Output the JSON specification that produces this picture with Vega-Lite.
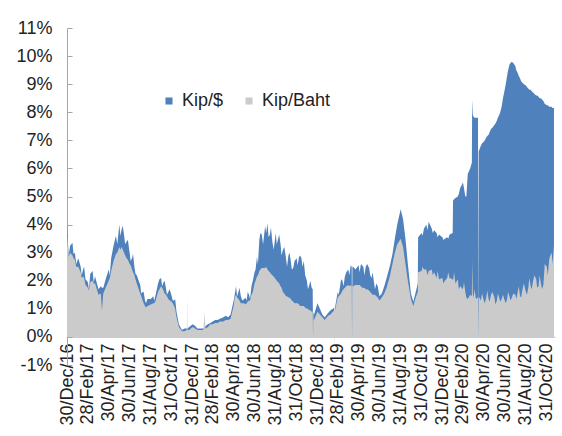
{
  "$schema": "https://vega.github.io/schema/vega-lite/v6.json",
  "width": 488,
  "height": 337,
  "autosize": {"type": "none"},
  "padding": {"left": 67, "top": 28, "right": 7, "bottom": 71},
  "config": {"view": {"stroke": null}, "font": "Liberation Sans"},
  "data": {"values": [
    {"date": "2016-12-30", "usd": 4.0, "baht": 3.6},
    {"date": "2017-01-01", "usd": 3.55, "baht": 3.3},
    {"date": "2017-01-08", "usd": 3.25, "baht": 3.0},
    {"date": "2017-01-15", "usd": 3.35, "baht": 2.9},
    {"date": "2017-01-22", "usd": 3.0, "baht": 2.75},
    {"date": "2017-02-01", "usd": 2.8, "baht": 2.5},
    {"date": "2017-02-08", "usd": 2.5, "baht": 2.3},
    {"date": "2017-02-15", "usd": 2.4, "baht": 2.15},
    {"date": "2017-02-22", "usd": 2.05, "baht": 1.85},
    {"date": "2017-03-01", "usd": 1.95, "baht": 1.75},
    {"date": "2017-03-08", "usd": 2.25, "baht": 1.95},
    {"date": "2017-03-15", "usd": 2.35, "baht": 2.0},
    {"date": "2017-03-22", "usd": 2.15, "baht": 1.9},
    {"date": "2017-04-01", "usd": 1.7, "baht": 1.5},
    {"date": "2017-04-08", "usd": 1.8, "baht": 1.55},
    {"date": "2017-04-15", "usd": 1.75, "baht": 1.55},
    {"date": "2017-04-22", "usd": 2.05, "baht": 1.75},
    {"date": "2017-05-01", "usd": 2.4, "baht": 2.0},
    {"date": "2017-05-08", "usd": 2.8, "baht": 2.35},
    {"date": "2017-05-15", "usd": 3.25, "baht": 2.7},
    {"date": "2017-05-22", "usd": 3.6, "baht": 2.95},
    {"date": "2017-06-01", "usd": 4.0, "baht": 3.2},
    {"date": "2017-06-08", "usd": 3.85, "baht": 3.2},
    {"date": "2017-06-15", "usd": 3.6, "baht": 3.0},
    {"date": "2017-06-22", "usd": 3.4, "baht": 2.8},
    {"date": "2017-07-01", "usd": 3.0, "baht": 2.6},
    {"date": "2017-07-08", "usd": 2.8, "baht": 2.4},
    {"date": "2017-07-15", "usd": 2.5, "baht": 2.2},
    {"date": "2017-07-22", "usd": 2.2, "baht": 1.9},
    {"date": "2017-08-01", "usd": 1.85, "baht": 1.55},
    {"date": "2017-08-08", "usd": 1.6, "baht": 1.3},
    {"date": "2017-08-15", "usd": 1.3, "baht": 1.1},
    {"date": "2017-08-22", "usd": 1.35, "baht": 1.1},
    {"date": "2017-09-01", "usd": 1.35, "baht": 1.15},
    {"date": "2017-09-08", "usd": 1.45, "baht": 1.2},
    {"date": "2017-09-15", "usd": 1.5, "baht": 1.3},
    {"date": "2017-09-22", "usd": 1.9, "baht": 1.6},
    {"date": "2017-10-01", "usd": 2.1, "baht": 1.8},
    {"date": "2017-10-08", "usd": 1.95, "baht": 1.65},
    {"date": "2017-10-15", "usd": 1.75, "baht": 1.5},
    {"date": "2017-10-22", "usd": 1.6, "baht": 1.35},
    {"date": "2017-11-01", "usd": 1.45, "baht": 1.25},
    {"date": "2017-11-08", "usd": 1.3, "baht": 1.1},
    {"date": "2017-11-15", "usd": 0.9, "baht": 0.7},
    {"date": "2017-11-22", "usd": 0.45, "baht": 0.35},
    {"date": "2017-12-01", "usd": 0.25, "baht": 0.2},
    {"date": "2017-12-08", "usd": 0.3, "baht": 0.2},
    {"date": "2017-12-15", "usd": 0.3, "baht": 0.25},
    {"date": "2017-12-16", "usd": 0.3, "baht": 1.4},
    {"date": "2017-12-17", "usd": 0.3, "baht": 0.25},
    {"date": "2017-12-22", "usd": 0.35, "baht": 0.25},
    {"date": "2018-01-01", "usd": 0.45, "baht": 0.35},
    {"date": "2018-01-08", "usd": 0.4, "baht": 0.3},
    {"date": "2018-01-15", "usd": 0.3, "baht": 0.25},
    {"date": "2018-01-22", "usd": 0.3, "baht": 0.25},
    {"date": "2018-02-01", "usd": 0.3, "baht": 0.25},
    {"date": "2018-02-06", "usd": 0.35, "baht": 0.9},
    {"date": "2018-02-07", "usd": 0.35, "baht": 0.3},
    {"date": "2018-02-08", "usd": 0.4, "baht": 0.3},
    {"date": "2018-02-15", "usd": 0.45, "baht": 0.35},
    {"date": "2018-02-22", "usd": 0.5, "baht": 0.45},
    {"date": "2018-03-01", "usd": 0.55, "baht": 0.45},
    {"date": "2018-03-08", "usd": 0.6, "baht": 0.5},
    {"date": "2018-03-15", "usd": 0.6, "baht": 0.5},
    {"date": "2018-03-22", "usd": 0.65, "baht": 0.55},
    {"date": "2018-04-01", "usd": 0.7, "baht": 0.55},
    {"date": "2018-04-08", "usd": 0.75, "baht": 0.6},
    {"date": "2018-04-15", "usd": 0.7, "baht": 0.6},
    {"date": "2018-04-22", "usd": 0.8, "baht": 0.65},
    {"date": "2018-05-01", "usd": 1.3, "baht": 1.1},
    {"date": "2018-05-08", "usd": 1.8, "baht": 1.5},
    {"date": "2018-05-15", "usd": 1.6, "baht": 1.35},
    {"date": "2018-05-22", "usd": 1.45, "baht": 1.2},
    {"date": "2018-06-01", "usd": 1.35, "baht": 1.2},
    {"date": "2018-06-08", "usd": 1.3, "baht": 1.2},
    {"date": "2018-06-15", "usd": 1.5, "baht": 1.3},
    {"date": "2018-06-22", "usd": 1.8, "baht": 1.5},
    {"date": "2018-07-01", "usd": 2.3, "baht": 1.9},
    {"date": "2018-07-08", "usd": 2.85, "baht": 2.15},
    {"date": "2018-07-15", "usd": 3.45, "baht": 2.35},
    {"date": "2018-07-22", "usd": 3.65, "baht": 2.45},
    {"date": "2018-08-01", "usd": 3.95, "baht": 2.45},
    {"date": "2018-08-08", "usd": 4.05, "baht": 2.4},
    {"date": "2018-08-15", "usd": 3.65, "baht": 2.3},
    {"date": "2018-08-22", "usd": 3.4, "baht": 2.2},
    {"date": "2018-09-01", "usd": 3.7, "baht": 2.05},
    {"date": "2018-09-08", "usd": 3.5, "baht": 1.95},
    {"date": "2018-09-15", "usd": 3.3, "baht": 1.8},
    {"date": "2018-09-22", "usd": 3.1, "baht": 1.6},
    {"date": "2018-10-01", "usd": 2.8, "baht": 1.45},
    {"date": "2018-10-08", "usd": 2.9, "baht": 1.4},
    {"date": "2018-10-15", "usd": 2.7, "baht": 1.35},
    {"date": "2018-10-22", "usd": 2.45, "baht": 1.25},
    {"date": "2018-11-01", "usd": 2.8, "baht": 1.2},
    {"date": "2018-11-08", "usd": 2.85, "baht": 1.15},
    {"date": "2018-11-15", "usd": 2.8, "baht": 1.1},
    {"date": "2018-11-22", "usd": 2.7, "baht": 1.1},
    {"date": "2018-12-01", "usd": 2.0, "baht": 1.0},
    {"date": "2018-12-08", "usd": 1.85, "baht": 0.95},
    {"date": "2018-12-15", "usd": 1.75, "baht": 0.9},
    {"date": "2018-12-18", "usd": 1.7, "baht": 0.9},
    {"date": "2018-12-19", "usd": 0, "baht": 0},
    {"date": "2018-12-20", "usd": 0.9, "baht": 0.65},
    {"date": "2018-12-22", "usd": 0.8, "baht": 0.6},
    {"date": "2019-01-01", "usd": 1.2, "baht": 0.9},
    {"date": "2019-01-08", "usd": 1.0, "baht": 0.8},
    {"date": "2019-01-15", "usd": 0.8, "baht": 0.7},
    {"date": "2019-01-22", "usd": 0.7, "baht": 0.6},
    {"date": "2019-02-01", "usd": 0.85, "baht": 0.75},
    {"date": "2019-02-08", "usd": 0.95, "baht": 0.8},
    {"date": "2019-02-15", "usd": 1.0, "baht": 0.9},
    {"date": "2019-02-19", "usd": 1.05, "baht": 0.95},
    {"date": "2019-02-20", "usd": -0.3, "baht": 0.95},
    {"date": "2019-02-21", "usd": 1.05, "baht": 0.95},
    {"date": "2019-02-22", "usd": 1.1, "baht": 1.0},
    {"date": "2019-03-01", "usd": 1.6, "baht": 1.4},
    {"date": "2019-03-08", "usd": 1.8, "baht": 1.5},
    {"date": "2019-03-15", "usd": 2.0, "baht": 1.65},
    {"date": "2019-03-22", "usd": 2.15, "baht": 1.75},
    {"date": "2019-04-01", "usd": 2.4, "baht": 1.85},
    {"date": "2019-04-08", "usd": 2.55, "baht": 1.85},
    {"date": "2019-04-11", "usd": 2.5, "baht": 1.8},
    {"date": "2019-04-12", "usd": 0, "baht": 0},
    {"date": "2019-04-13", "usd": 2.5, "baht": 1.8},
    {"date": "2019-04-15", "usd": 2.5, "baht": 1.8},
    {"date": "2019-04-22", "usd": 2.4, "baht": 1.85},
    {"date": "2019-05-01", "usd": 2.55, "baht": 1.85},
    {"date": "2019-05-08", "usd": 2.6, "baht": 1.8},
    {"date": "2019-05-15", "usd": 2.5, "baht": 1.75},
    {"date": "2019-05-22", "usd": 2.5, "baht": 1.7},
    {"date": "2019-06-01", "usd": 2.45, "baht": 1.65},
    {"date": "2019-06-08", "usd": 2.1, "baht": 1.55},
    {"date": "2019-06-15", "usd": 1.95, "baht": 1.5},
    {"date": "2019-06-22", "usd": 1.9, "baht": 1.45},
    {"date": "2019-07-01", "usd": 1.45, "baht": 1.3},
    {"date": "2019-07-08", "usd": 1.55, "baht": 1.4},
    {"date": "2019-07-15", "usd": 1.8, "baht": 1.55},
    {"date": "2019-07-22", "usd": 2.1, "baht": 1.75},
    {"date": "2019-08-01", "usd": 2.55, "baht": 2.2},
    {"date": "2019-08-08", "usd": 2.95, "baht": 2.6},
    {"date": "2019-08-15", "usd": 3.5, "baht": 3.0},
    {"date": "2019-08-22", "usd": 4.0, "baht": 3.3},
    {"date": "2019-09-01", "usd": 4.55, "baht": 3.5},
    {"date": "2019-09-08", "usd": 4.2, "baht": 3.2},
    {"date": "2019-09-15", "usd": 3.5, "baht": 2.6},
    {"date": "2019-09-22", "usd": 2.6, "baht": 2.0},
    {"date": "2019-10-01", "usd": 1.55, "baht": 1.35},
    {"date": "2019-10-08", "usd": 1.25, "baht": 1.1},
    {"date": "2019-10-15", "usd": 1.6, "baht": 1.4},
    {"date": "2019-10-21", "usd": 1.9, "baht": 1.6},
    {"date": "2019-10-22", "usd": 3.55, "baht": 2.3},
    {"date": "2019-11-01", "usd": 3.7, "baht": 2.35},
    {"date": "2019-11-08", "usd": 3.85, "baht": 2.4},
    {"date": "2019-11-15", "usd": 4.0, "baht": 2.4},
    {"date": "2019-11-22", "usd": 4.1, "baht": 2.35},
    {"date": "2019-12-01", "usd": 3.85, "baht": 2.4},
    {"date": "2019-12-08", "usd": 3.8, "baht": 2.3},
    {"date": "2019-12-15", "usd": 3.7, "baht": 2.1},
    {"date": "2019-12-22", "usd": 3.65, "baht": 2.05},
    {"date": "2020-01-01", "usd": 3.55, "baht": 2.1},
    {"date": "2020-01-08", "usd": 3.5, "baht": 2.0},
    {"date": "2020-01-15", "usd": 3.55, "baht": 2.1},
    {"date": "2020-01-22", "usd": 3.65, "baht": 2.1},
    {"date": "2020-01-31", "usd": 3.7, "baht": 2.05},
    {"date": "2020-02-01", "usd": 4.85, "baht": 2.0},
    {"date": "2020-02-08", "usd": 4.95, "baht": 1.9},
    {"date": "2020-02-15", "usd": 5.0, "baht": 2.05},
    {"date": "2020-02-22", "usd": 5.3, "baht": 1.8},
    {"date": "2020-03-01", "usd": 5.5, "baht": 1.7},
    {"date": "2020-03-08", "usd": 5.0, "baht": 1.6},
    {"date": "2020-03-15", "usd": 5.8, "baht": 1.35},
    {"date": "2020-03-22", "usd": 6.0, "baht": 1.5},
    {"date": "2020-03-27", "usd": 6.2, "baht": 1.45},
    {"date": "2020-03-28", "usd": 8.45, "baht": 2.75},
    {"date": "2020-03-30", "usd": 7.9, "baht": 1.5},
    {"date": "2020-04-01", "usd": 7.85, "baht": 1.4},
    {"date": "2020-04-08", "usd": 7.8, "baht": 1.35},
    {"date": "2020-04-14", "usd": 7.8, "baht": 1.4},
    {"date": "2020-04-15", "usd": 0, "baht": 0},
    {"date": "2020-04-16", "usd": 6.6, "baht": 1.45},
    {"date": "2020-04-22", "usd": 6.8, "baht": 1.3},
    {"date": "2020-05-01", "usd": 6.95, "baht": 1.3},
    {"date": "2020-05-08", "usd": 7.1, "baht": 1.4},
    {"date": "2020-05-15", "usd": 7.2, "baht": 1.35},
    {"date": "2020-05-22", "usd": 7.4, "baht": 1.5},
    {"date": "2020-06-01", "usd": 7.55, "baht": 1.4},
    {"date": "2020-06-08", "usd": 7.7, "baht": 1.3},
    {"date": "2020-06-15", "usd": 7.9, "baht": 1.4},
    {"date": "2020-06-22", "usd": 8.2, "baht": 1.35},
    {"date": "2020-07-01", "usd": 8.8, "baht": 1.3},
    {"date": "2020-07-08", "usd": 9.3, "baht": 1.35},
    {"date": "2020-07-15", "usd": 9.7, "baht": 1.45},
    {"date": "2020-07-22", "usd": 9.8, "baht": 1.4},
    {"date": "2020-08-01", "usd": 9.65, "baht": 1.5},
    {"date": "2020-08-08", "usd": 9.4, "baht": 1.6},
    {"date": "2020-08-15", "usd": 9.2, "baht": 1.45},
    {"date": "2020-08-22", "usd": 9.05, "baht": 1.7},
    {"date": "2020-09-01", "usd": 8.95, "baht": 1.6},
    {"date": "2020-09-08", "usd": 8.85, "baht": 1.75},
    {"date": "2020-09-15", "usd": 8.8, "baht": 1.8},
    {"date": "2020-09-22", "usd": 8.7, "baht": 2.0},
    {"date": "2020-10-01", "usd": 8.6, "baht": 2.05},
    {"date": "2020-10-08", "usd": 8.55, "baht": 1.8},
    {"date": "2020-10-15", "usd": 8.5, "baht": 1.9},
    {"date": "2020-10-22", "usd": 8.4, "baht": 1.85},
    {"date": "2020-11-01", "usd": 8.25, "baht": 2.5},
    {"date": "2020-11-08", "usd": 8.2, "baht": 2.75},
    {"date": "2020-11-15", "usd": 8.2, "baht": 3.0},
    {"date": "2020-11-22", "usd": 8.15, "baht": 3.3},
    {"date": "2017-01-04", "usd": 2.9, "baht": 2.85},
    {"date": "2017-01-18", "usd": 2.95, "baht": 2.8},
    {"date": "2017-01-26", "usd": 2.6, "baht": 2.5},
    {"date": "2017-02-11", "usd": 2.2, "baht": 2.1},
    {"date": "2017-02-18", "usd": 2.5, "baht": 2.1},
    {"date": "2017-03-04", "usd": 1.7, "baht": 1.65},
    {"date": "2017-03-18", "usd": 1.95, "baht": 1.9},
    {"date": "2017-04-11", "usd": 1.75, "baht": 0.95},
    {"date": "2017-05-04", "usd": 2.2, "baht": 2.1},
    {"date": "2017-05-11", "usd": 3.0, "baht": 2.5},
    {"date": "2017-05-26", "usd": 3.3, "baht": 3.0},
    {"date": "2017-06-04", "usd": 3.6, "baht": 3.1},
    {"date": "2017-06-11", "usd": 3.95, "baht": 3.1},
    {"date": "2017-06-18", "usd": 3.3, "baht": 2.9},
    {"date": "2017-06-26", "usd": 3.45, "baht": 2.75},
    {"date": "2017-07-04", "usd": 2.7, "baht": 2.55},
    {"date": "2017-07-11", "usd": 2.95, "baht": 2.3},
    {"date": "2017-07-18", "usd": 2.25, "baht": 2.05},
    {"date": "2017-07-26", "usd": 2.05, "baht": 1.75},
    {"date": "2017-08-04", "usd": 1.55, "baht": 1.45},
    {"date": "2017-08-11", "usd": 1.6, "baht": 1.2},
    {"date": "2017-08-18", "usd": 1.2, "baht": 1.05},
    {"date": "2017-09-11", "usd": 1.3, "baht": 1.2},
    {"date": "2017-09-26", "usd": 2.05, "baht": 1.7},
    {"date": "2017-10-04", "usd": 1.8, "baht": 1.75},
    {"date": "2017-10-11", "usd": 2.0, "baht": 1.55},
    {"date": "2017-10-18", "usd": 1.5, "baht": 1.45},
    {"date": "2017-10-26", "usd": 1.7, "baht": 1.3},
    {"date": "2017-11-04", "usd": 1.3, "baht": 1.2},
    {"date": "2017-11-11", "usd": 1.35, "baht": 1.0},
    {"date": "2018-05-04", "usd": 1.5, "baht": 1.4},
    {"date": "2018-05-11", "usd": 1.45, "baht": 1.4},
    {"date": "2018-05-18", "usd": 1.75, "baht": 1.3},
    {"date": "2018-05-26", "usd": 1.3, "baht": 1.2},
    {"date": "2018-06-04", "usd": 1.4, "baht": 1.15},
    {"date": "2018-06-11", "usd": 1.6, "baht": 1.25},
    {"date": "2018-06-18", "usd": 1.35, "baht": 1.3},
    {"date": "2018-06-26", "usd": 2.0, "baht": 1.6},
    {"date": "2018-07-04", "usd": 2.4, "baht": 2.0},
    {"date": "2018-07-11", "usd": 2.6, "baht": 2.2},
    {"date": "2018-07-18", "usd": 3.7, "baht": 2.4},
    {"date": "2018-07-26", "usd": 3.3, "baht": 2.45},
    {"date": "2018-08-04", "usd": 3.7, "baht": 2.5},
    {"date": "2018-08-11", "usd": 3.55, "baht": 2.35},
    {"date": "2018-08-18", "usd": 3.9, "baht": 2.25},
    {"date": "2018-08-26", "usd": 3.1, "baht": 2.15},
    {"date": "2018-09-04", "usd": 3.3, "baht": 2.0},
    {"date": "2018-09-11", "usd": 3.65, "baht": 1.9},
    {"date": "2018-09-18", "usd": 2.9, "baht": 1.75},
    {"date": "2018-09-26", "usd": 3.2, "baht": 1.55},
    {"date": "2018-10-04", "usd": 2.5, "baht": 1.45},
    {"date": "2018-10-11", "usd": 3.0, "baht": 1.4},
    {"date": "2018-10-18", "usd": 2.4, "baht": 1.3},
    {"date": "2018-10-26", "usd": 2.7, "baht": 1.2},
    {"date": "2018-11-04", "usd": 2.55, "baht": 1.2},
    {"date": "2018-11-11", "usd": 2.9, "baht": 1.1},
    {"date": "2018-11-18", "usd": 2.5, "baht": 1.1},
    {"date": "2018-11-26", "usd": 2.2, "baht": 1.05},
    {"date": "2018-12-04", "usd": 1.7, "baht": 1.0},
    {"date": "2018-12-11", "usd": 2.0, "baht": 0.95},
    {"date": "2019-03-04", "usd": 1.5, "baht": 1.45},
    {"date": "2019-03-11", "usd": 2.05, "baht": 1.55},
    {"date": "2019-03-18", "usd": 1.8, "baht": 1.7},
    {"date": "2019-03-26", "usd": 2.3, "baht": 1.8},
    {"date": "2019-04-04", "usd": 2.2, "baht": 1.8},
    {"date": "2019-05-04", "usd": 2.3, "baht": 1.85},
    {"date": "2019-05-11", "usd": 2.55, "baht": 1.75},
    {"date": "2019-05-18", "usd": 2.2, "baht": 1.75},
    {"date": "2019-05-26", "usd": 2.6, "baht": 1.7},
    {"date": "2019-06-04", "usd": 2.2, "baht": 1.6},
    {"date": "2019-06-11", "usd": 2.3, "baht": 1.5},
    {"date": "2019-06-18", "usd": 1.7, "baht": 1.5},
    {"date": "2019-06-26", "usd": 1.8, "baht": 1.4},
    {"date": "2019-11-04", "usd": 3.6, "baht": 2.5},
    {"date": "2019-11-18", "usd": 3.8, "baht": 2.2},
    {"date": "2019-12-04", "usd": 3.7, "baht": 2.2},
    {"date": "2019-12-18", "usd": 3.55, "baht": 2.35},
    {"date": "2020-01-04", "usd": 3.45, "baht": 1.9},
    {"date": "2020-01-18", "usd": 3.5, "baht": 2.3},
    {"date": "2020-02-04", "usd": 4.9, "baht": 2.3},
    {"date": "2020-02-18", "usd": 5.1, "baht": 1.7},
    {"date": "2020-03-04", "usd": 5.3, "baht": 1.95},
    {"date": "2020-03-11", "usd": 5.0, "baht": 1.4},
    {"date": "2020-04-04", "usd": 7.8, "baht": 1.7},
    {"date": "2020-04-26", "usd": 6.9, "baht": 1.55},
    {"date": "2020-05-04", "usd": 7.0, "baht": 1.2},
    {"date": "2020-05-11", "usd": 7.15, "baht": 1.65},
    {"date": "2020-05-18", "usd": 7.3, "baht": 1.25},
    {"date": "2020-05-26", "usd": 7.45, "baht": 1.6},
    {"date": "2020-06-04", "usd": 7.6, "baht": 1.15},
    {"date": "2020-06-11", "usd": 7.8, "baht": 1.55},
    {"date": "2020-06-18", "usd": 8.0, "baht": 1.25},
    {"date": "2020-06-26", "usd": 8.5, "baht": 1.5},
    {"date": "2020-07-04", "usd": 9.0, "baht": 1.2},
    {"date": "2020-07-11", "usd": 9.5, "baht": 1.6},
    {"date": "2020-07-18", "usd": 9.75, "baht": 1.3},
    {"date": "2020-07-26", "usd": 9.75, "baht": 1.55},
    {"date": "2020-08-04", "usd": 9.5, "baht": 1.35},
    {"date": "2020-08-11", "usd": 9.3, "baht": 1.8},
    {"date": "2020-08-18", "usd": 9.1, "baht": 1.4},
    {"date": "2020-08-26", "usd": 9.0, "baht": 1.9},
    {"date": "2020-09-04", "usd": 8.9, "baht": 1.5},
    {"date": "2020-09-11", "usd": 8.8, "baht": 2.1},
    {"date": "2020-09-18", "usd": 8.75, "baht": 1.7},
    {"date": "2020-09-26", "usd": 8.65, "baht": 2.2},
    {"date": "2020-10-04", "usd": 8.6, "baht": 1.75},
    {"date": "2020-10-11", "usd": 8.5, "baht": 2.2},
    {"date": "2020-10-18", "usd": 8.45, "baht": 1.7},
    {"date": "2020-10-26", "usd": 8.3, "baht": 2.6},
    {"date": "2020-11-04", "usd": 8.25, "baht": 2.2},
    {"date": "2020-11-11", "usd": 8.2, "baht": 2.9},
    {"date": "2020-11-18", "usd": 8.15, "baht": 2.6}
  ]},
  "transform": [
    {"fold": ["usd", "baht"], "as": ["series", "value"]}
  ],
  "mark": {"type": "area", "interpolate": "linear"},
  "encoding": {
    "x": {
      "field": "date", "type": "temporal",
      "scale": {"type": "utc", "domain": [{"year": 2016, "month": 12, "date": 30, "utc": true}, {"year": 2020, "month": 11, "date": 25, "utc": true}]},
      "axis": {
        "title": null,
        "offset": -28.1,
        "format": "%d/%b/%y",
        "values": [
          {"year": 2016, "month": 12, "date": 30, "utc": true},
          {"year": 2017, "month": 2, "date": 28, "utc": true},
          {"year": 2017, "month": 4, "date": 30, "utc": true},
          {"year": 2017, "month": 6, "date": 30, "utc": true},
          {"year": 2017, "month": 8, "date": 31, "utc": true},
          {"year": 2017, "month": 10, "date": 31, "utc": true},
          {"year": 2017, "month": 12, "date": 31, "utc": true},
          {"year": 2018, "month": 2, "date": 28, "utc": true},
          {"year": 2018, "month": 4, "date": 30, "utc": true},
          {"year": 2018, "month": 6, "date": 30, "utc": true},
          {"year": 2018, "month": 8, "date": 31, "utc": true},
          {"year": 2018, "month": 10, "date": 31, "utc": true},
          {"year": 2018, "month": 12, "date": 31, "utc": true},
          {"year": 2019, "month": 2, "date": 28, "utc": true},
          {"year": 2019, "month": 4, "date": 30, "utc": true},
          {"year": 2019, "month": 6, "date": 30, "utc": true},
          {"year": 2019, "month": 8, "date": 31, "utc": true},
          {"year": 2019, "month": 10, "date": 31, "utc": true},
          {"year": 2019, "month": 12, "date": 31, "utc": true},
          {"year": 2020, "month": 2, "date": 29, "utc": true},
          {"year": 2020, "month": 4, "date": 30, "utc": true},
          {"year": 2020, "month": 6, "date": 30, "utc": true},
          {"year": 2020, "month": 8, "date": 31, "utc": true},
          {"year": 2020, "month": 10, "date": 31, "utc": true}
        ],
        "labelAngle": 270,
        "labelAlign": "right",
        "labelBaseline": "middle",
        "labelFontSize": 18,
        "labelColor": "#222222",
        "labelPadding": 6,
        "labelOverlap": false,
        "labelFlush": false,
        "ticks": false,
        "grid": false,
        "domainColor": "#c8c8c8",
        "domainWidth": 1
      }
    },
    "y": {
      "field": "value", "type": "quantitative", "stack": null,
      "scale": {"domain": [-1, 11], "nice": false, "zero": false},
      "axis": {
        "title": null,
        "values": [-1, 0, 1, 2, 3, 4, 5, 6, 7, 8, 9, 10, 11],
        "labelExpr": "datum.value + '%'",
        "labelFontSize": 18,
        "labelColor": "#222222",
        "labelPadding": 20,
        "labelOverlap": false,
        "domain": true,
        "domainColor": "#a6a6a6",
        "grid": false,
        "tickColor": "#a6a6a6",
        "tickSize": -5
      }
    },
    "color": {
      "field": "series",
      "type": "nominal",
      "scale": {"domain": ["usd", "baht"], "range": ["#4f81bd", "#cbcbcb"]},
      "legend": {
        "title": null,
        "orient": "none",
        "direction": "horizontal",
        "legendX": 93,
        "legendY": 64,
        "labelExpr": "datum.label === 'usd' ? 'Kip/$' : 'Kip/Baht'",
        "symbolType": "square",
        "symbolSize": 50,
        "symbolStrokeWidth": 0,
        "labelFontSize": 18,
        "labelColor": "#222222",
        "labelOffset": 4,
        "columnPadding": 16
      }
    }
  }
}
